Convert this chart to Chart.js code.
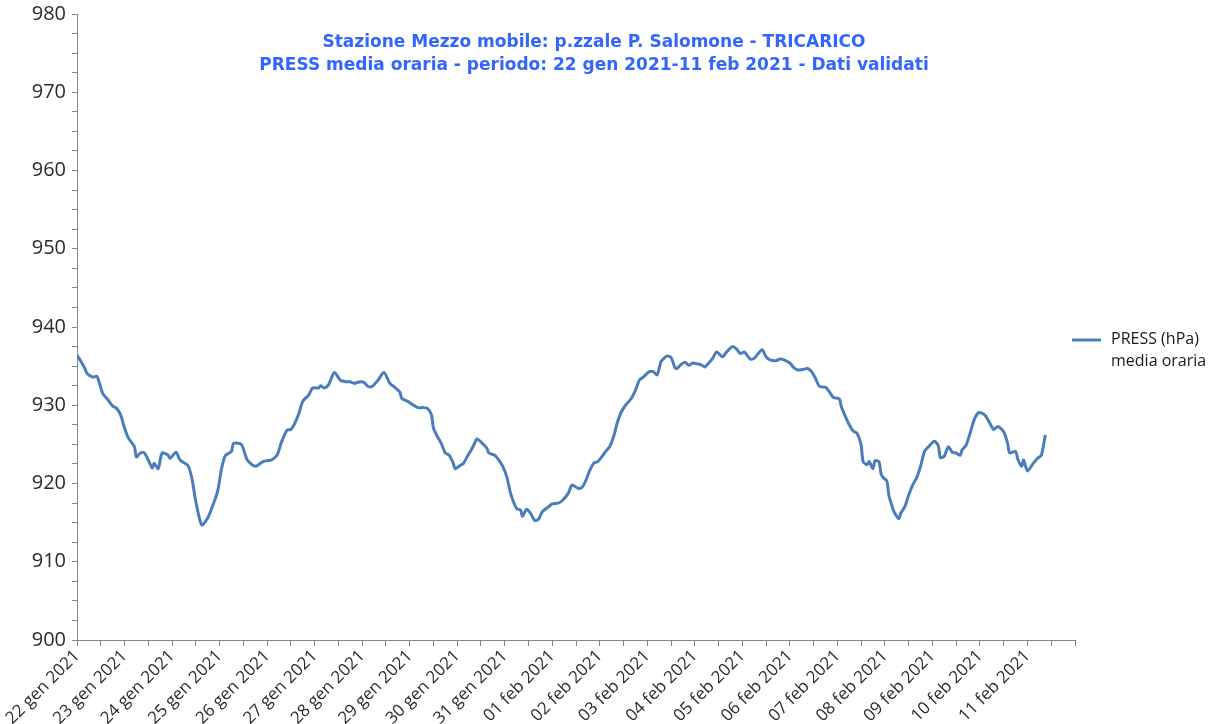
<!DOCTYPE html>
<html>
<head>
<meta charset="utf-8">
<script src="https://cdn.jsdelivr.net/npm/chart.js@4.4.1/dist/chart.umd.min.js"></script>
<style>
  html,body{margin:0;padding:0;background:#fff}
  canvas{display:block}
</style>
</head>
<body>
<canvas id="grafico" width="1215" height="724"></canvas>
<script>
// ===== dati =====
// ore trascorse dal 22 gen 2021 00:00
const ORE = [0,2,4,5,8,10,11,13,15,18,20,22,24,26,29,30,32,34,36,38,39,41,43,46,47,50,52,56,58,60,
  63,66,68,71,73,75,78,79,83,86,90,94,98,101,103,106,108,110,112,114,117,119,122,123,125,127,130,133,136,138,
  140,143,145,147,149,152,155,158,160,163,164,167,170,172,175,177,179,180,182,184,186,188,190,191,194,195,197,200,202,204,
  207,208,211,213,215,217,219,222,224,225,227,229,231,233,235,238,240,243,245,248,250,253,255,257,259,261,263,265,267,269,
  271,273,275,277,280,282,284,286,289,291,293,295,298,300,302,303,305,307,309,311,313,315,317,318,321,323,326,328,331,333,
  335,337,340,342,344,346,348,350,353,355,357,360,362,364,367,369,371,373,375,378,380,382,385,386,388,390,392,394,396,397,
  399,400,402,403,405,406,407,409,410,412,413,415,416,418,420,422,424,426,428,430,433,435,436,438,440,442,444,446,447,449,
  451,453,455,457,459,461,463,465,468,470,471,474,475,477,478,480,483,485,487,489];
// PRESS (hPa) media oraria
const PRESS = [936.4,935.6,934.7,934.1,933.6,933.7,933.1,931.5,930.9,929.9,929.6,928.8,927.1,925.8,924.7,923.4,923.9,923.9,923.0,922.0,922.6,921.9,923.9,923.6,923.2,924.0,923.0,922.3,920.7,917.7,
  914.7,915.6,916.8,919.0,921.9,923.6,924.1,925.1,925.0,923.0,922.2,922.8,923.0,923.6,925.1,926.8,926.9,927.7,928.9,930.5,931.3,932.2,932.2,932.5,932.2,932.6,934.2,933.2,933.0,933.0,
  932.8,933.0,932.9,932.4,932.4,933.2,934.2,932.8,932.4,931.7,930.9,930.5,930.0,929.7,929.7,929.6,928.8,927.1,926.0,925.1,923.9,923.6,922.6,921.9,922.4,922.5,923.4,924.7,925.7,925.3,
  924.5,923.9,923.6,923.0,922.2,920.9,918.7,916.8,916.6,915.8,916.7,916.2,915.3,915.4,916.4,917.0,917.4,917.5,917.8,918.7,919.8,919.4,919.5,920.4,921.7,922.6,922.8,923.4,924.1,924.7,
  926.0,927.9,929.2,930.0,930.9,931.9,933.2,933.6,934.3,934.3,933.9,935.6,936.3,936.1,934.8,934.7,935.2,935.5,935.1,935.4,935.3,935.2,934.9,935.1,936.0,936.8,936.2,936.8,937.5,937.2,
  936.6,936.8,935.9,936.0,936.6,937.1,936.2,935.8,935.7,935.9,935.8,935.4,934.8,934.5,934.6,934.7,934.3,933.4,932.4,932.3,931.7,931.0,930.8,929.8,928.6,927.5,926.7,926.4,924.9,922.8,
  922.4,922.8,921.9,922.9,922.8,921.3,920.8,920.3,918.5,916.8,916.2,915.5,916.2,917.0,918.5,919.8,920.7,922.2,924.1,924.7,925.4,924.8,923.3,923.5,924.7,924.0,923.9,923.6,924.3,924.9,
  926.4,928.1,929.0,929.0,928.6,927.7,926.9,927.3,926.6,925.1,923.9,924.1,923.2,922.2,923.0,921.6,922.6,923.2,923.6,926.2];
const GIORNI = ['22 gen 2021','23 gen 2021','24 gen 2021','25 gen 2021','26 gen 2021','27 gen 2021','28 gen 2021',
  '29 gen 2021','30 gen 2021','31 gen 2021','01 feb 2021','02 feb 2021','03 feb 2021','04 feb 2021','05 feb 2021',
  '06 feb 2021','07 feb 2021','08 feb 2021','09 feb 2021','10 feb 2021','11 feb 2021'];
const TITOLO = ['Stazione Mezzo mobile: p.zzale P. Salomone - TRICARICO',
  'PRESS media oraria - periodo: 22 gen 2021-11 feb 2021 - Dati validati'];
const LEGENDA = ['PRESS (hPa)', 'media oraria'];

// ===== stile =====
const BLU = '#4a7ebb', GRIGIO = '#868686', TESTO = '#2b2b2b';
const ORE_TOT = GIORNI.length * 24;

// ===== plugin =====
const titolo = {id:'titolo', afterDraw(c){
  const {ctx} = c;
  ctx.save();
  ctx.font = 'bold 17px "DejaVu Sans"'; ctx.fillStyle = '#3366ff';
  ctx.textAlign = 'center'; ctx.textBaseline = 'middle';
  ctx.fillText(TITOLO[0], 594, 43);
  ctx.fillText(TITOLO[1], 594, 66);
  ctx.restore();
}};
const legenda = {id:'legenda', afterDraw(c){
  const {ctx} = c;
  ctx.save();
  ctx.strokeStyle = BLU; ctx.lineWidth = 3;
  ctx.beginPath(); ctx.moveTo(1072, 340); ctx.lineTo(1101, 340); ctx.stroke();
  ctx.font = '16px "Open Sans"'; ctx.fillStyle = '#1a1a1a';
  ctx.textBaseline = 'middle';
  ctx.fillText(LEGENDA[0], 1111, 339);
  ctx.fillText(LEGENDA[1], 1111, 361);
  ctx.restore();
}};

// ===== grafico =====
new Chart(document.getElementById('grafico'), {
  type: 'line',
  data: { datasets: [{
    label: LEGENDA.join(' '),
    data: ORE.map((h, i) => ({x: h, y: PRESS[i]})),
    borderColor: BLU, borderWidth: 3, pointRadius: 0, tension: 0.25, fill: false
  }]},
  options: {
    responsive: false, animation: false,
    layout: {padding: {top: 0, right: 140, left: 0, bottom: 0}},
    plugins: {legend: {display: false}, tooltip: {enabled: false}},
    scales: {
      x: {
        type: 'linear', min: 0, max: ORE_TOT,
        border: {color: GRIGIO, width: 1},
        grid: {drawOnChartArea: false, drawTicks: true, tickLength: 6, color: GRIGIO},
        ticks: {stepSize: 12, autoSkip: false, maxRotation: 45, minRotation: 45, color: TESTO, padding: 0,
          font: {family: 'Open Sans', size: 17},
          callback: v => (v % 24 === 0 && v < ORE_TOT) ? GIORNI[v / 24] : ''},
        afterFit: s => { s.height = 84; }
      },
      y: {
        min: 900, max: 980,
        border: {color: GRIGIO, width: 1},
        grid: {drawOnChartArea: false, drawTicks: true, tickLength: 5, color: GRIGIO},
        ticks: {stepSize: 2.5, autoSkip: false, color: TESTO, padding: 6,
          font: {family: 'Open Sans', size: 20},
          callback: v => v % 10 === 0 ? v : ''},
        // asse a x=77, 980 a y=14
        afterFit: s => { s.width = 77; s.paddingTop = 14; }
      }
    }
  },
  plugins: [titolo, legenda]
});
</script>
</body>
</html>
